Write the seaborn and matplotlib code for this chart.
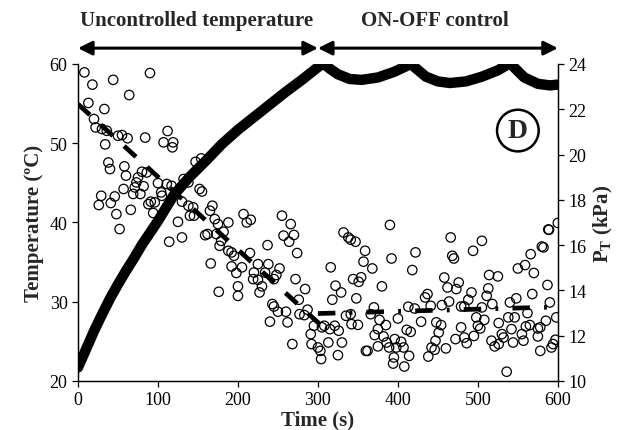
import matplotlib
matplotlib.use("Agg")
import matplotlib.pyplot as plt
import seaborn as sns

# temperature (left axis)
time_temp = [0, 10, 20, 30, 40, 50, 60, 70, 80, 90, 100, 120, 140, 160, 180, 200, 220, 240, 260, 280, 300,
             306, 315, 325, 340, 355, 375, 395, 410, 415, 422, 435, 450, 465, 485, 505, 525, 540, 547, 558,
             575, 590, 600]
temperature = [21.7, 24.0, 26.3, 28.4, 30.4, 32.2, 33.9, 35.5, 37.2, 38.7, 40.2, 43.5, 45.8, 47.8, 49.9, 51.7,
               53.3, 54.9, 56.5, 58.0, 59.6, 60.1, 59.4, 58.7, 58.1, 58.0, 58.3, 59.0, 59.7, 60.1, 59.5, 58.4,
               57.8, 57.6, 57.8, 58.4, 59.2, 60.1, 59.4, 58.3, 57.5, 57.3, 57.4]

# P_T points (right axis)
time_p = [8, 90, 44, 18, 64, 13, 33, 20, 22, 30, 36, 50, 55, 62, 84, 112, 107, 119, 118, 34, 38, 40, 58, 60,
          80, 86, 75, 73, 71, 82, 57, 69, 78, 100, 111, 117, 104, 105, 91, 88, 96, 94, 132, 138, 152, 155,
          147, 154, 130, 138, 144, 140, 145, 168, 165, 171, 175, 188, 29, 26, 41, 46, 48, 66, 52, 125,
          207, 211, 216, 255, 266,
          114, 130, 159, 162, 173, 182, 179, 177, 188, 192, 195, 166, 192, 198, 176, 200, 200,
          257, 270, 264, 237, 274, 215, 225, 238, 205, 252, 220, 234, 248, 219, 225, 245, 272, 230, 284,
          227, 276, 243, 245, 260, 250, 277, 283, 287, 262, 240, 295, 308, 305, 321, 315, 326, 291, 313,
          330, 268, 292, 300, 303, 304, 325, 318, 322, 329, 316, 335, 341, 342, 350, 332, 338, 341, 347,
          359, 357, 368, 344, 354, 351, 348, 392, 380, 370, 366, 377, 385, 375, 382, 371, 386, 389, 375,
          360, 362, 396, 395, 394, 400, 390,
          466, 505, 589, 422, 494, 468, 470, 580, 582, 566, 559, 550, 570, 418, 458, 514, 525, 587, 462,
          476, 473, 513, 511, 492, 568, 548, 540, 434, 437, 464, 488, 479, 483, 518, 455, 413, 421, 441,
          590, 505, 429, 448, 498, 508, 538, 546, 562, 585, 598, 454, 526, 411, 416, 451, 479, 500, 503,
          495, 483, 472, 542, 555, 560, 565, 575, 578, 575, 530, 532, 517, 521, 526, 544, 557, 486, 447,
          442, 404, 398, 407, 414, 408, 438, 460, 446, 578, 594, 597, 592, 536, 600, 588]
pressure = [23.63, 23.6, 23.3, 23.09, 22.63, 22.28, 22.01, 21.57, 21.2, 21.13, 21.05, 20.83, 20.86, 20.72,
            20.75, 21.04, 20.54, 20.54, 20.32, 20.45, 19.65, 19.36, 19.48, 19.07, 19.24, 19.21, 18.99, 18.77,
            18.55, 18.6, 18.48, 18.26, 18.26, 18.74, 18.7, 18.62, 18.33, 18.18, 17.92, 17.81, 17.89, 17.42,
            18.92, 18.77, 18.48, 18.37, 19.68, 19.83, 17.92, 17.74, 17.67, 17.3, 17.3, 17.74, 17.52, 17.15,
            16.93, 17.0, 18.18, 17.77, 17.86, 18.15, 17.37, 17.56, 16.71, 17.03,
            17.37, 17.0, 17.12, 17.3, 16.93,
            16.15, 16.34, 16.44, 16.49, 16.49, 16.59, 16.19, 15.97, 15.75, 15.68, 15.53, 15.19, 15.06, 14.77,
            13.94, 14.18, 13.76,
            16.42, 16.45, 16.15, 16.0, 15.65, 15.65, 15.16, 15.16, 15.02, 14.97, 14.79, 14.79, 14.68, 14.5,
            14.47, 14.5, 14.5, 14.18, 14.06, 13.91, 13.59, 13.4, 13.29, 13.06, 13.06, 12.95, 12.91, 13.15,
            12.59, 12.62, 12.44, 12.44, 12.37, 12.44, 12.29, 12.22, 12.07, 11.7, 11.7, 11.63, 11.63, 11.48,
            11.33, 10.97, 11.14, 13.59, 14.21, 13.91, 15.02, 12.88, 12.95, 12.51, 12.48, 16.56, 16.34, 16.24,
            16.15, 15.75, 15.27, 14.97, 14.5, 14.58, 14.38, 13.65, 15.41, 14.18, 13.25, 12.95, 12.7, 12.47,
            12.29, 11.97, 12.03, 11.7, 11.48, 11.53, 11.33, 11.33, 11.85, 11.04, 10.77, 12.76, 16.89,
            16.34, 16.19, 16.68, 15.68, 15.75, 15.53, 15.41, 15.94, 15.9, 15.6, 15.12, 14.97, 14.77, 14.9,
            14.57, 14.68, 14.62, 14.24, 14.13, 14.35, 14.06, 14.09, 13.76, 13.91, 13.84, 13.65, 13.47, 13.69,
            13.84, 13.51, 13.59, 13.29, 13.29, 13.4, 13.35, 13.28, 13.2, 13.32, 13.47, 13.25, 12.62, 12.59,
            12.81, 12.7, 12.81, 12.81, 13.0, 12.66, 12.81, 12.47, 12.56, 12.26, 12.17, 12.14, 12.37, 12.44,
            12.32, 11.99, 11.92, 11.85, 12.29, 12.07, 12.41, 12.47, 12.32, 12.37, 11.97, 12.07, 11.92, 11.78,
            11.53, 11.63, 11.7, 11.78, 11.67, 11.78, 11.48, 11.73, 11.48, 11.48, 11.11, 10.64, 11.08, 11.44,
            11.38, 11.33, 11.63, 11.82, 11.48, 10.41, 16.98, 16.69]

# trend lines of P_T
trend1_t = [0, 302]
trend1_p = [22.23, 12.52]
trend2_t = [300, 600]
trend2_p = [12.98, 13.27]

sns.set_style("ticks")
plt.rcParams["font.family"] = ["Liberation Serif", "DejaVu Serif"]
plt.rcParams["mathtext.fontset"] = "custom"
plt.rcParams["mathtext.rm"] = "Liberation Serif"
plt.rcParams["mathtext.bf"] = "Liberation Serif:bold"

fig = plt.figure(figsize=(6.24, 4.31), dpi=100)
ax = fig.add_axes([0.125, 0.1137, 0.769, 0.7355])
ax2 = ax.twinx()

# pressure points + trends on the right axis
sns.scatterplot(x=time_p, y=pressure, ax=ax2, marker="o", s=46, fc="none", ec="black", linewidth=0.9)
sns.lineplot(x=trend1_t, y=trend1_p, ax=ax2, color="black", linewidth=3.4, linestyle=(0, (3.4, 3.2)))
sns.lineplot(x=trend2_t, y=trend2_p, ax=ax2, color="black", linewidth=3.4,
             linestyle=(0, (3.7, 3.0, 0.6, 3.0)))

# temperature on top
sns.lineplot(x=time_temp, y=temperature, ax=ax, color="black", linewidth=7.5, solid_capstyle="round")
ax.set_zorder(ax2.get_zorder() + 1)
ax.patch.set_visible(False)

ax.set_xlim(0, 600)
ax.set_ylim(20, 60)
ax2.set_ylim(10, 24)
ax.set_xticks(range(0, 601, 100))
ax.set_yticks(range(20, 61, 10))
ax2.set_yticks(range(10, 25, 2))

for a in (ax, ax2):
    a.spines["top"].set_visible(False)
    for s in a.spines.values():
        s.set_linewidth(0.9)
        s.set_color("black")
    a.tick_params(direction="out", length=4, width=0.9, labelsize=13, colors="black")

ax.set_xlabel("Time (s)", fontsize=15, fontweight="bold", labelpad=1)
ax.set_ylabel("Temperature (ºC)", fontsize=15, fontweight="bold", labelpad=4)
ax2.set_ylabel(r"$\mathbf{P_T}$ (kPa)", fontsize=15, fontweight="bold", labelpad=4)

# phase arrows
arrow = dict(arrowstyle="<|-|>", color="black", lw=2.2, mutation_scale=21, shrinkA=0, shrinkB=0)
ax.annotate("", xy=(0, 62.0), xytext=(300, 62.0), arrowprops=arrow, annotation_clip=False)
ax.annotate("", xy=(300, 62.0), xytext=(600, 62.0), arrowprops=arrow, annotation_clip=False)
ax.text(148, 65.6, "Uncontrolled temperature", fontsize=15, fontweight="bold", ha="center", va="center",
        clip_on=False)
ax.text(446, 65.6, "ON-OFF control", fontsize=15, fontweight="bold", ha="center", va="center",
        clip_on=False)

ax.text(550, 51.6, "D", fontsize=20, fontweight="bold", ha="center", va="center",
        bbox=dict(boxstyle="circle,pad=0.3", fc="white", ec="black", lw=1.8))

fig.savefig("out.png", dpi=100)
